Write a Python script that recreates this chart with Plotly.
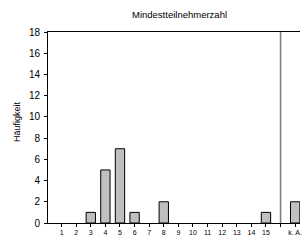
import plotly.graph_objects as go

categories = ["1", "2", "3", "4", "5", "6", "7", "8", "9", "10", "11", "12", "13", "14", "15", "", "k. A."]
counts = [0, 0, 1, 5, 7, 1, 0, 2, 0, 0, 0, 0, 0, 0, 1, None, 2]
title = "Mindestteilnehmerzahl"
y_title = "Häufigkeit"
y_ticks = [0, 2, 4, 6, 8, 10, 12, 14, 16, 18]

xs = list(range(len(categories)))
sep = categories.index("")
outline = [1 if (c or 0) > 0 else 0 for c in counts]

fig = go.Figure()
fig.add_trace(go.Bar(
    x=xs, y=counts,
    marker=dict(color="#c0c0c0", line=dict(color="#000000", width=outline)),
    width=0.64,
))

fig.add_shape(type="line", xref="x", yref="y", x0=sep, x1=sep, y0=0, y1=18,
              line=dict(color="#7f7f7f", width=1.6), layer="below")

font = "Liberation Sans, Arial, sans-serif"
fig.update_layout(
    width=302, height=240,
    margin=dict(l=48, r=0, t=32, b=17),
    paper_bgcolor="white", plot_bgcolor="white",
    showlegend=False,
    font=dict(family=font, color="#000000"),
    xaxis=dict(
        range=[-0.93, 16.33],
        tickvals=xs, ticktext=categories,
        ticks="outside", ticklen=3, tickcolor="#000000",
        showline=True, linecolor="#000000", linewidth=1, mirror=True,
        showgrid=False, zeroline=False,
        tickfont=dict(size=7, family=font),
        ticklabeloverflow="allow",
    ),
    yaxis=dict(
        range=[0, 18], tickvals=y_ticks,
        ticks="outside", ticklen=3, tickcolor="#000000",
        showline=True, linecolor="#000000", linewidth=1,
        showgrid=False, zeroline=False,
        tickfont=dict(size=10, family=font),
        ticklabelstandoff=2,
    ),
    annotations=[
        dict(text=title, xref="paper", yref="paper", x=0.52, y=1.094,
             showarrow=False, font=dict(size=9.5, family=font), xanchor="center", yanchor="middle"),
        dict(text=y_title, xref="paper", yref="paper", x=-31/254, y=0.53,
             showarrow=False, textangle=-90, font=dict(size=9, family=font),
             xanchor="center", yanchor="middle"),
    ],
)

fig.write_html("out.html", config={"displayModeBar": False},
               post_script="document.body.style.margin='0';document.body.style.overflow='hidden';")
